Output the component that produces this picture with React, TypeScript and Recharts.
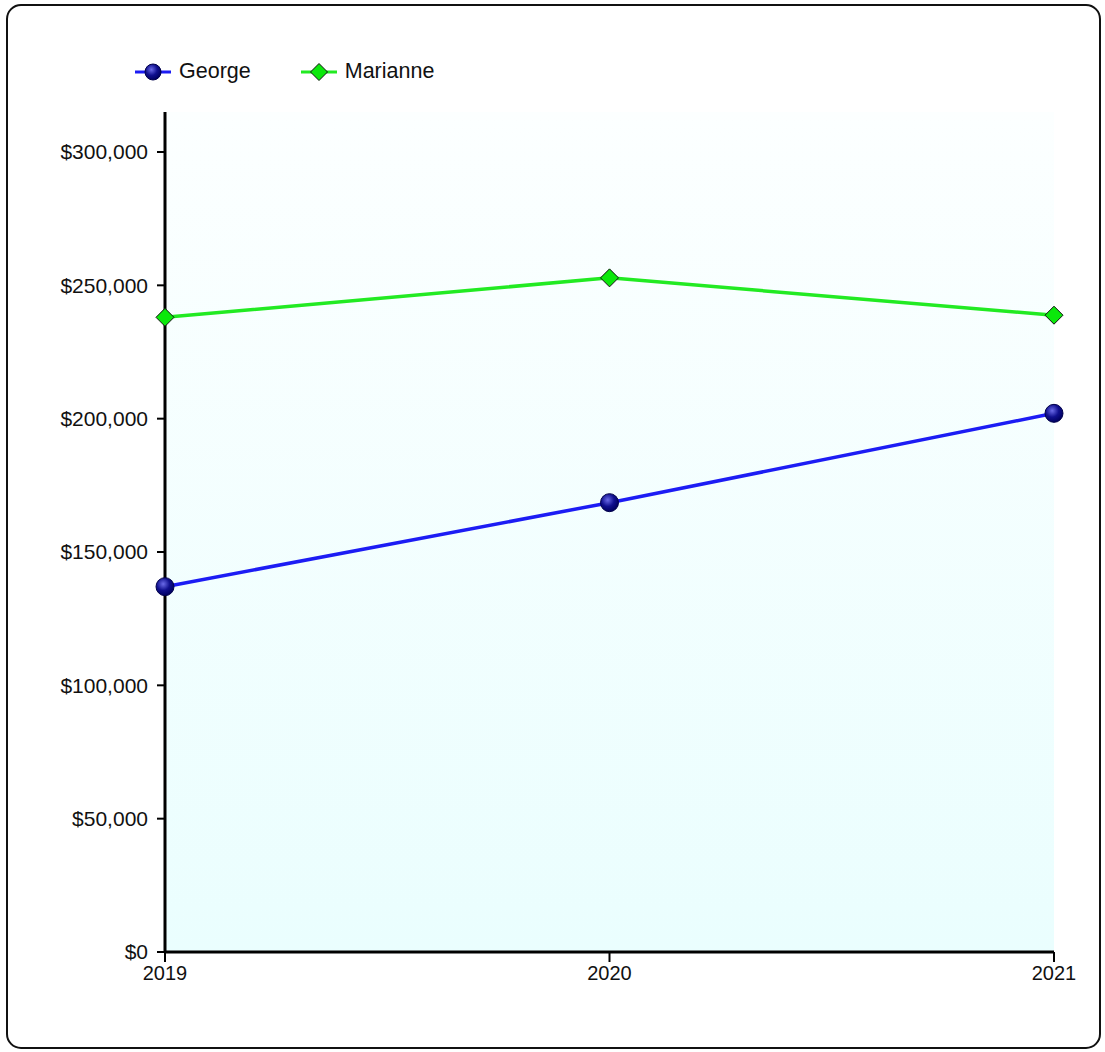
import { LineChart, Line, XAxis, YAxis, CartesianGrid } from 'recharts';

const years = ['2019', '2020', '2021'];
const george = [137000, 168500, 202000];
const marianne = [238000, 252800, 238800];
const yTicks = [0, 50000, 100000, 150000, 200000, 250000, 300000];

const data = years.map((year, i) => ({
  year,
  george: george[i],
  marianne: marianne[i],
}));

const FONT = '"Liberation Sans", Arial, sans-serif';
const BLUE = '#1c1cf4';
const GREEN = '#22ea22';

function formatMoney(v: number) {
  return '$' + v.toLocaleString('en-US');
}

function GeorgeDot(props: any) {
  const { cx, cy, index } = props;
  if (cx == null || cy == null) return null;
  return (
    <circle
      key={`g-${index}`}
      cx={cx}
      cy={cy}
      r={9}
      fill="url(#sphere)"
      stroke="#00004a"
      strokeWidth={1}
    />
  );
}

function MarianneDot(props: any) {
  const { cx, cy, index } = props;
  if (cx == null || cy == null) return null;
  const s = 9;
  return (
    <polygon
      key={`m-${index}`}
      points={`${cx},${cy - s} ${cx + s},${cy} ${cx},${cy + s} ${cx - s},${cy}`}
      fill="#0be80b"
      stroke="#111"
      strokeWidth={1}
    />
  );
}

function LegendItem({ name, color, marker }: { name: string; color: string; marker: 'circle' | 'diamond' }) {
  return (
    <div style={{ display: 'flex', alignItems: 'center', marginRight: 50 }}>
      <svg width={36} height={20}>
        <line x1={0} y1={10} x2={36} y2={10} stroke={color} strokeWidth={3} />
        {marker === 'circle' ? (
          <circle cx={18} cy={10} r={8} fill="url(#sphereLegend)" stroke="#00004a" strokeWidth={1} />
        ) : (
          <polygon points="18,1.5 26.5,10 18,18.5 9.5,10" fill="#0be80b" stroke="#111" strokeWidth={1} />
        )}
        <defs>
          <radialGradient id="sphereLegend" cx="40%" cy="35%" r="65%">
            <stop offset="0%" stopColor="#6a6ae8" />
            <stop offset="55%" stopColor="#10108f" />
            <stop offset="100%" stopColor="#000060" />
          </radialGradient>
        </defs>
      </svg>
      <span style={{ marginLeft: 8, fontSize: 21.5, color: '#111' }}>{name}</span>
    </div>
  );
}

export default function App() {
  return (
    <div style={{ position: 'absolute', left: 0, top: 0, width: 1105, height: 1052, fontFamily: FONT, background: '#fff' }}>
      <div style={{ position: 'absolute', left: 135, top: 59, display: 'flex' }}>
        <LegendItem name="George" color={BLUE} marker="circle" />
        <LegendItem name="Marianne" color={GREEN} marker="diamond" />
      </div>
      <div style={{ position: 'absolute', left: 0, top: 0 }}>
        <LineChart
          width={1105}
          height={1052}
          data={data}
          margin={{ top: 112, right: 51, left: 0, bottom: 70 }}
        >
          <defs>
            <linearGradient id="bg" x1="0" y1="0" x2="0" y2="1">
              <stop offset="0%" stopColor="#fcffff" />
              <stop offset="100%" stopColor="#eafefe" />
            </linearGradient>
            <radialGradient id="sphere" cx="40%" cy="35%" r="65%">
              <stop offset="0%" stopColor="#6a6ae8" />
              <stop offset="55%" stopColor="#10108f" />
              <stop offset="100%" stopColor="#000060" />
            </radialGradient>
          </defs>
          <CartesianGrid horizontal={false} vertical={false} fill="url(#bg)" />
          <XAxis
            dataKey="year"
            height={30}
            axisLine={{ stroke: '#000', strokeWidth: 3 }}
            tickLine={{ stroke: '#000', strokeWidth: 2 }}
            tickSize={10}
            tickMargin={4}
            tick={{ fill: '#111', fontSize: 20, fontFamily: FONT }}
          />
          <YAxis
            width={165}
            domain={[0, 315000]}
            ticks={yTicks}
            tickFormatter={formatMoney}
            axisLine={{ stroke: '#000', strokeWidth: 3 }}
            tickLine={{ stroke: '#000', strokeWidth: 2 }}
            tickSize={8}
            tickMargin={9}
            tick={{ fill: '#111', fontSize: 21, fontFamily: FONT }}
          />
          <Line
            dataKey="george"
            stroke={BLUE}
            strokeWidth={3.5}
            dot={GeorgeDot}
            activeDot={false}
            isAnimationActive={false}
          />
          <Line
            dataKey="marianne"
            stroke={GREEN}
            strokeWidth={3.5}
            dot={MarianneDot}
            activeDot={false}
            isAnimationActive={false}
          />
        </LineChart>
      </div>
      <svg
        width={1105}
        height={1052}
        style={{ position: 'absolute', left: 0, top: 0, pointerEvents: 'none' }}
      >
        <rect x={7} y={5} width={1093} height={1043} rx={14} ry={14} fill="none" stroke="#111" strokeWidth={2} />
      </svg>
    </div>
  );
}
